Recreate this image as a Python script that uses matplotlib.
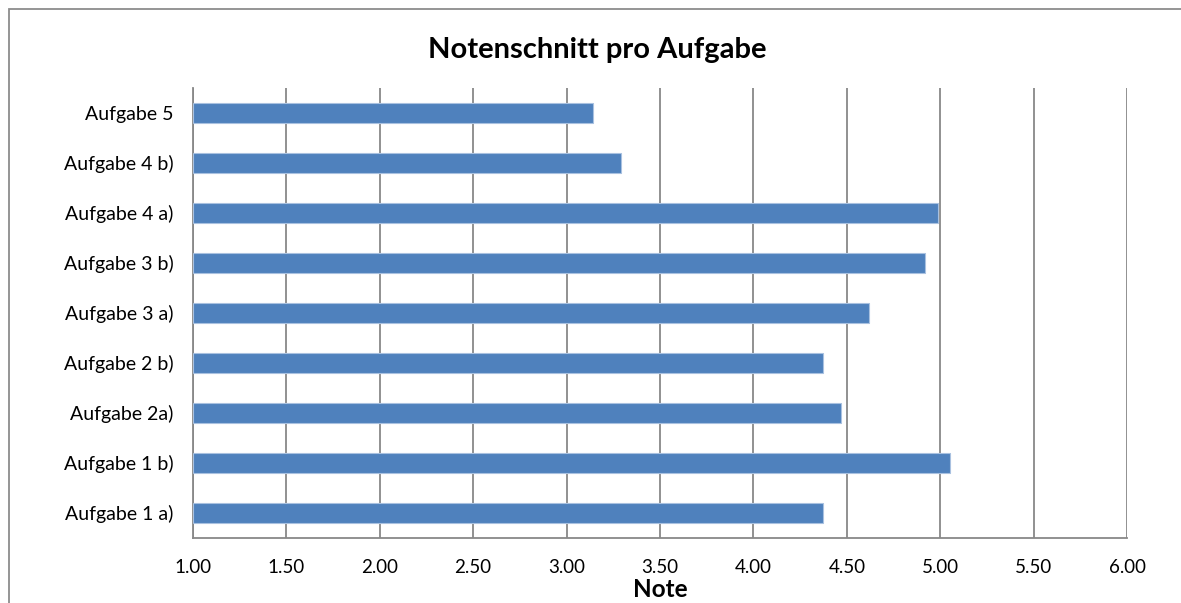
import matplotlib.pyplot as plt
from matplotlib.patches import Rectangle

plt.rcParams['font.family'] = ['Lato', 'DejaVu Sans']

# Data
categories = ['Aufgabe 1 a)', 'Aufgabe 1 b)', 'Aufgabe 2a)', 'Aufgabe 2 b)',
              'Aufgabe 3 a)', 'Aufgabe 3 b)', 'Aufgabe 4 a)', 'Aufgabe 4 b)',
              'Aufgabe 5']
noten = [4.37, 5.05, 4.47, 4.37, 4.62, 4.92, 4.99, 3.29, 3.14]
xticks = [1.0, 1.5, 2.0, 2.5, 3.0, 3.5, 4.0, 4.5, 5.0, 5.5, 6.0]

fig = plt.figure(figsize=(11.81, 6.03), dpi=100)
ax = fig.add_axes([0.1632, 0.1083, 0.7913, 0.7458])

# outer chart frame
fig.patches.append(Rectangle((9 / 1181, -0.1), 1.2, 1.1 - 9 / 603,
                             transform=fig.transFigure, fill=False,
                             edgecolor='#8c8c8c', linewidth=1.3))

base = 1.0
ax.barh(range(len(categories)), [v - base for v in noten], left=base,
        height=0.4, color='#4F81BD', edgecolor='#a9c1e0', linewidth=0.8,
        zorder=3)

ax.set_xlim(1.0, 6.0)
ax.set_ylim(-0.5, len(categories) - 0.5)
ax.set_xticks(xticks)
ax.set_xticklabels(['%.2f' % t for t in xticks], fontsize=13.5)
ax.set_yticks(range(len(categories)))
ax.set_yticklabels(categories, fontsize=14)
ax.tick_params(length=0)
ax.tick_params(axis='x', pad=15)
ax.tick_params(axis='y', pad=14)

ax.grid(axis='x', color='#888888', linewidth=1.3, zorder=0)
for s in ['top', 'right']:
    ax.spines[s].set_visible(False)
for s in ['left', 'bottom']:
    ax.spines[s].set_color('#888888')
    ax.spines[s].set_linewidth(1.3)

ax.set_xlabel('Note', fontsize=17.5, fontweight='bold', labelpad=2)
fig.text(0.5055, 0.917, 'Notenschnitt pro Aufgabe', fontsize=21,
         fontweight='bold', ha='center', va='center')

plt.savefig('out.png', dpi=100)
plt.close()
